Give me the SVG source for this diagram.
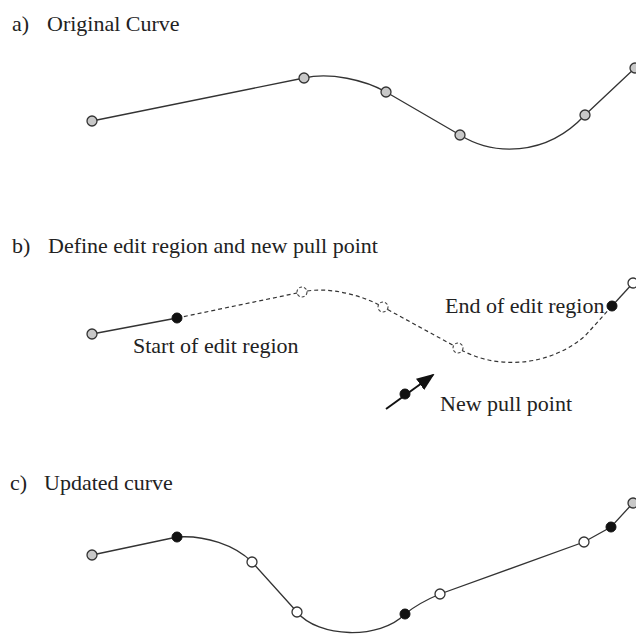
<svg xmlns="http://www.w3.org/2000/svg" width="636" height="636" viewBox="0 0 636 636">
<style>
text{font-family:"Liberation Serif","Times New Roman",serif;font-size:22px;fill:#222}
.c{fill:none;stroke:#333;stroke-width:1.3}
.d{fill:none;stroke:#333;stroke-width:1.2;stroke-dasharray:4 3}
.g{fill:#c8c8c8;stroke:#333;stroke-width:1.3}
.b{fill:#111;stroke:#111;stroke-width:1}
.w{fill:#fff;stroke:#333;stroke-width:1.3}
.dw{fill:#fff;stroke:#444;stroke-width:1.1;stroke-dasharray:3 2}
</style>
<defs>
<marker id="ah" markerUnits="userSpaceOnUse" markerWidth="18" markerHeight="14" viewBox="0 0 18 14" refX="16" refY="7" orient="auto">
<path d="M0,0 L18,7 L0,14 z" fill="#111"/>
</marker>
</defs>
<rect width="636" height="636" fill="#fff"/>

<g id="titles">
<text x="12" y="31">a)</text><text x="47" y="31">Original Curve</text>
<text x="12" y="253">b)</text><text x="48" y="253">Define edit region and new pull point</text>
<text x="10" y="490">c)</text><text x="44" y="490">Updated curve</text>
</g>

<g id="connectors">
<!-- panel a -->
<path class="c" d="M92,121 L304,78 C330,72 365,80 386,92 L460,135 C492,155 545,158 585,115 L635,68"/>
<!-- panel b -->
<path class="c" d="M92,334 L177,318"/>
<path class="d" d="M177,318 L302,292 C328,286 362,295 383,307 L458,348 C490,368 545,370 585,336 L612,306"/>
<path class="c" d="M612,306 L633,283"/>
<path d="M386,409 L433,375" stroke="#111" stroke-width="2" fill="none" marker-end="url(#ah)"/>
<!-- panel c -->
<path class="c" d="M92,555 L177,537 C205,535 235,545 252,562 L297,612 C318,638 380,640 405,614 C415,606 428,599 440,594 L584,542 L611,527 L633,503"/>
</g>

<g id="a-p1"><circle class="g" cx="92" cy="121" r="5"/></g>
<g id="a-p2"><circle class="g" cx="304" cy="78" r="5"/></g>
<g id="a-p3"><circle class="g" cx="386" cy="92" r="5"/></g>
<g id="a-p4"><circle class="g" cx="460" cy="135" r="5"/></g>
<g id="a-p5"><circle class="g" cx="585" cy="115" r="5"/></g>
<g id="a-p6"><circle class="g" cx="635" cy="68" r="5"/></g>

<g id="b-p1"><circle class="g" cx="92" cy="334" r="5"/></g>
<g id="b-start"><circle class="b" cx="177" cy="318" r="5"/><text x="133" y="353">Start of edit region</text></g>
<g id="b-p2"><circle class="dw" cx="302" cy="292" r="5"/></g>
<g id="b-p3"><circle class="dw" cx="383" cy="307" r="5"/></g>
<g id="b-p4"><circle class="dw" cx="458" cy="348" r="5"/></g>
<g id="b-end"><circle class="b" cx="612" cy="306" r="5"/><text x="445" y="313">End of edit region</text></g>
<g id="b-p6"><circle class="w" cx="633" cy="283" r="5"/></g>
<g id="b-pull"><circle class="b" cx="405" cy="394" r="5"/><text x="440" y="411">New pull point</text></g>

<g id="c-p1"><circle class="g" cx="92" cy="555" r="5"/></g>
<g id="c-p2"><circle class="b" cx="177" cy="537" r="5"/></g>
<g id="c-p3"><circle class="w" cx="252" cy="562" r="5"/></g>
<g id="c-p4"><circle class="w" cx="297" cy="612" r="5"/></g>
<g id="c-p5"><circle class="b" cx="405" cy="614" r="5"/></g>
<g id="c-p6"><circle class="w" cx="440" cy="594" r="5"/></g>
<g id="c-p7"><circle class="w" cx="584" cy="542" r="5"/></g>
<g id="c-p8"><circle class="b" cx="611" cy="527" r="5"/></g>
<g id="c-p9"><circle class="g" cx="633" cy="503" r="5"/></g>
</svg>
